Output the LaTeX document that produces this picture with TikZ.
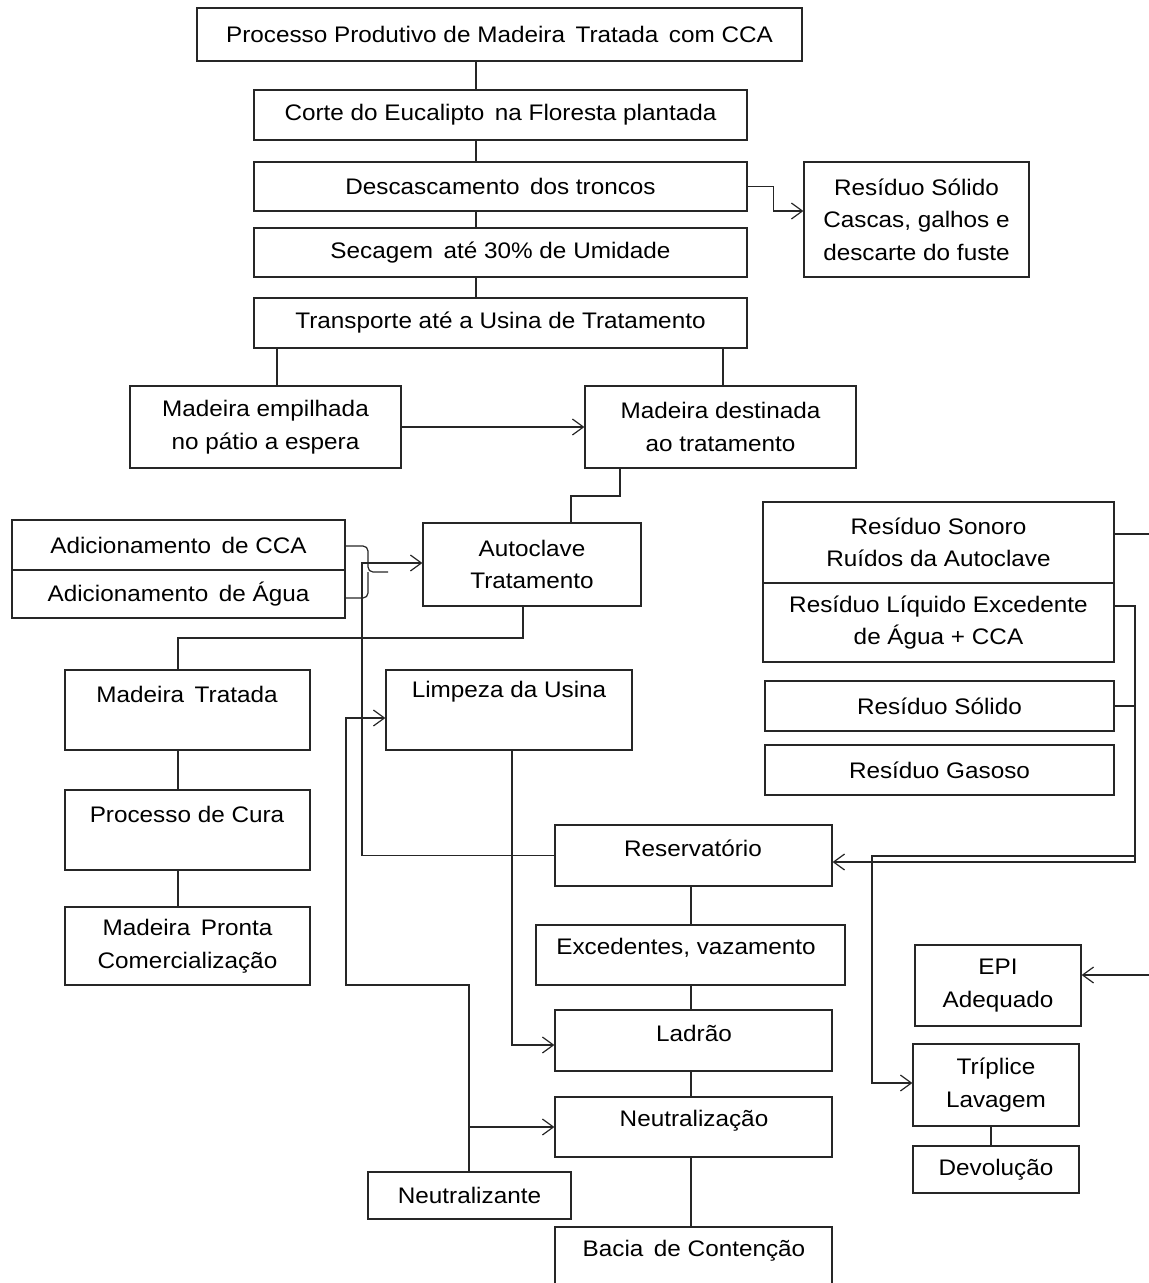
\documentclass[tikz,border=0pt]{standalone}
\usepackage{fontspec}
\setmainfont[FakeStretch=1.08]{Liberation Sans}
\usetikzlibrary{arrows.meta,calc}
\tikzset{
 box/.style={draw=black!85, line width=1.2pt, inner sep=0pt, align=center, font=\fontsize{22.5}{32.5}\selectfont},
 lbl/.style={inner sep=0pt, align=center, font=\fontsize{22.5}{32.5}\selectfont},
 ln/.style={draw=black!85, line width=1.2pt},
 arr/.style={ln, -{Straight Barb[length=11pt,width=16pt]}},
}
\newcommand\bx[7][]{\node[box,#1, minimum width={(#5-#3)*1pt}, minimum height={(#6-#4)*1pt}] (#2) at ({(#3+#5)/2},{(#4+#6)/2}) {#7};}
\begin{document}
\begin{tikzpicture}[x=1pt,y=-1pt]
\useasboundingbox (0,0) rectangle (1149,1283);
% boxes
\bx{title}{197}{8}{802}{61}{Processo Produtivo de Madeira\, Tratada\, com CCA}
\bx{corte}{254}{90}{747}{140}{Corte do Eucalipto\, na Floresta plantada}
\bx{desc}{254}{162}{747}{211}{Descascamento\, dos troncos}
\bx{sec}{254}{228}{747}{277}{Secagem\, até 30\% de Umidade}
\bx{trans}{254}{298}{747}{348}{Transporte até a Usina de Tratamento}
\bx{rsol1}{804}{162}{1029}{277}{Resíduo Sólido\\Cascas, galhos e\\descarte do fuste}
\bx{emp}{130}{386}{401}{468}{Madeira empilhada\\no pátio a espera}
\bx{dest}{585}{386}{856}{468}{Madeira destinada\\ao tratamento}
\bx{auto}{423}{523}{641}{606}{Autoclave\\Tratamento}
\bx{cca}{12}{520}{345}{570}{Adicionamento\, de CCA}
\bx{agua}{12}{570}{345}{618}{Adicionamento\, de Água}
\bx{mtrat}{65}{670}{310}{750}{}
\node[lbl] (mtratt) at (187,694) {Madeira\, Tratada};
\bx{cura}{65}{790}{310}{870}{}
\node[lbl] (curat) at (187,814) {Processo de Cura};
\bx{pronta}{65}{907}{310}{985}{Madeira\, Pronta\\Comercialização}
\bx{limp}{386}{670}{632}{750}{}
\node[lbl] (limpt) at (509,692) {Limpeza da Usina};
\bx{resv}{555}{825}{832}{886}{}
\node[lbl] (resvt) at (693,848) {Reservatório};
\bx{exc}{536}{925}{845}{985}{}
\node[lbl] (exct) at (686,948) {Excedentes, vazamento};
\bx{lad}{555}{1010}{832}{1071}{}
\node[lbl] (ladt) at (694,1033) {Ladrão};
\bx{neut}{555}{1097}{832}{1157}{}
\node[lbl] (neutt) at (694,1121) {Neutralização};
\bx{bacia}{555}{1227}{832}{1300}{}
\node[lbl] (baciat) at (694,1251) {Bacia\, de Contenção};
\bx{neutz}{368}{1172}{571}{1219}{Neutralizante}
\bx{sono}{763}{502}{1114}{583}{Resíduo Sonoro\\Ruídos da Autoclave}
\bx{liq}{763}{583}{1114}{662}{Resíduo Líquido Excedente\\de Água + CCA}
\bx{rsol2}{765}{681}{1114}{731}{Resíduo Sólido}
\bx{gas}{765}{745}{1114}{795}{Resíduo Gasoso}
\bx{epi}{915}{945}{1081}{1026}{EPI\\Adequado}
\bx{tripl}{913}{1044}{1079}{1126}{Tríplice\\Lavagem}
\bx{devol}{913}{1146}{1079}{1193}{Devolução}
% helper coordinates
\coordinate (xm) at (476,0);
\coordinate (ya) at (0,211);
\coordinate (xb) at (277,0);
\coordinate (xc) at (723,0);
\coordinate (xd) at (620,0);
\coordinate (xe) at (571,0);
\coordinate (yd) at (0,496);
\coordinate (xf) at (523,0);
\coordinate (yf) at (0,638);
\coordinate (xg) at (178,0);
\coordinate (yc1) at (0,546);
\coordinate (yc2) at (0,598);
\coordinate (ybr) at (0,572);
\coordinate (xbr) at (368,0);
\coordinate (xtip) at (388,0);
\coordinate (xh) at (362,0);
\coordinate (yh) at (0,563);
\coordinate (xi) at (512,0);
\coordinate (yi) at (0,1045);
\coordinate (xj) at (469,0);
\coordinate (yj) at (0,985);
\coordinate (xk) at (346,0);
\coordinate (yk) at (0,718);
\coordinate (br) at (469,1127);
\coordinate (xr) at (691,0);
\coordinate (e1) at (1149,534);
\coordinate (xs) at (1135,0);
\coordinate (ys) at (0,606);
\coordinate (yt) at (0,862);
\coordinate (yu) at (0,856);
\coordinate (xu) at (872,0);
\coordinate (yv) at (0,1083);
\coordinate (e2) at (1149,975);
\coordinate (xw) at (991,0);
% connectors
\draw[ln] (title.south -| xm) -- (corte.north -| xm);
\draw[ln] (corte.south -| xm) -- (desc.north -| xm);
\draw[ln] (desc.south -| xm) -- (sec.north -| xm);
\draw[ln] (sec.south -| xm) -- (trans.north -| xm);
\draw[arr] (desc.east) -- ++(26,0) |- (rsol1.west |- ya);
\draw[ln] (trans.south -| xb) -- (emp.north -| xb);
\draw[ln] (trans.south -| xc) -- (dest.north -| xc);
\draw[arr] (emp.east) -- (dest.west);
\draw[ln] (dest.south -| xd) -- (xd |- yd) -- (xe |- yd) -- (auto.north -| xe);
\draw[ln] (auto.south -| xf) -- (xf |- yf) -- (xg |- yf) -- (mtrat.north -| xg);
\draw[ln] (mtrat.south -| xg) -- (cura.north -| xg);
\draw[ln] (cura.south -| xg) -- (pronta.north -| xg);
\draw[ln, rounded corners=5pt] (cca.east |- yc1) -- (xbr |- yc1) -- (xbr |- ybr) -- (xtip |- ybr);
\draw[ln, rounded corners=5pt] (agua.east |- yc2) -- (xbr |- yc2) -- (xbr |- ybr);
\draw[arr] (resv.west) -- (xh |- resv.west) -- (xh |- yh) -- (auto.west |- yh);
\draw[arr] (limp.south -| xi) -- (xi |- yi) -- (lad.west |- yi);
\draw[arr] (neutz.north -| xj) -- (xj |- yj) -- (xk |- yj) -- (xk |- yk) -- (limp.west |- yk);
\draw[arr] (br) -- (neut.west |- br);
\draw[ln] (resv.south -| xr) -- (exc.north -| xr);
\draw[ln] (exc.south -| xr) -- (lad.north -| xr);
\draw[ln] (lad.south -| xr) -- (neut.north -| xr);
\draw[ln] (neut.south -| xr) -- (bacia.north -| xr);
\draw[ln] (sono.east |- e1) -- (e1);
\draw[arr] (liq.east |- ys) -- (xs |- ys) -- (xs |- yt) -- (resv.east |- yt);
\draw[ln] (rsol2.east) -- (xs |- rsol2.east);
\draw[arr] (xs |- yu) -- (xu |- yu) -- (xu |- yv) -- (tripl.west |- yv);
\draw[arr] (e2) -- (epi.east |- e2);
\draw[ln] (tripl.south -| xw) -- (devol.north -| xw);
\end{tikzpicture}
\end{document}
